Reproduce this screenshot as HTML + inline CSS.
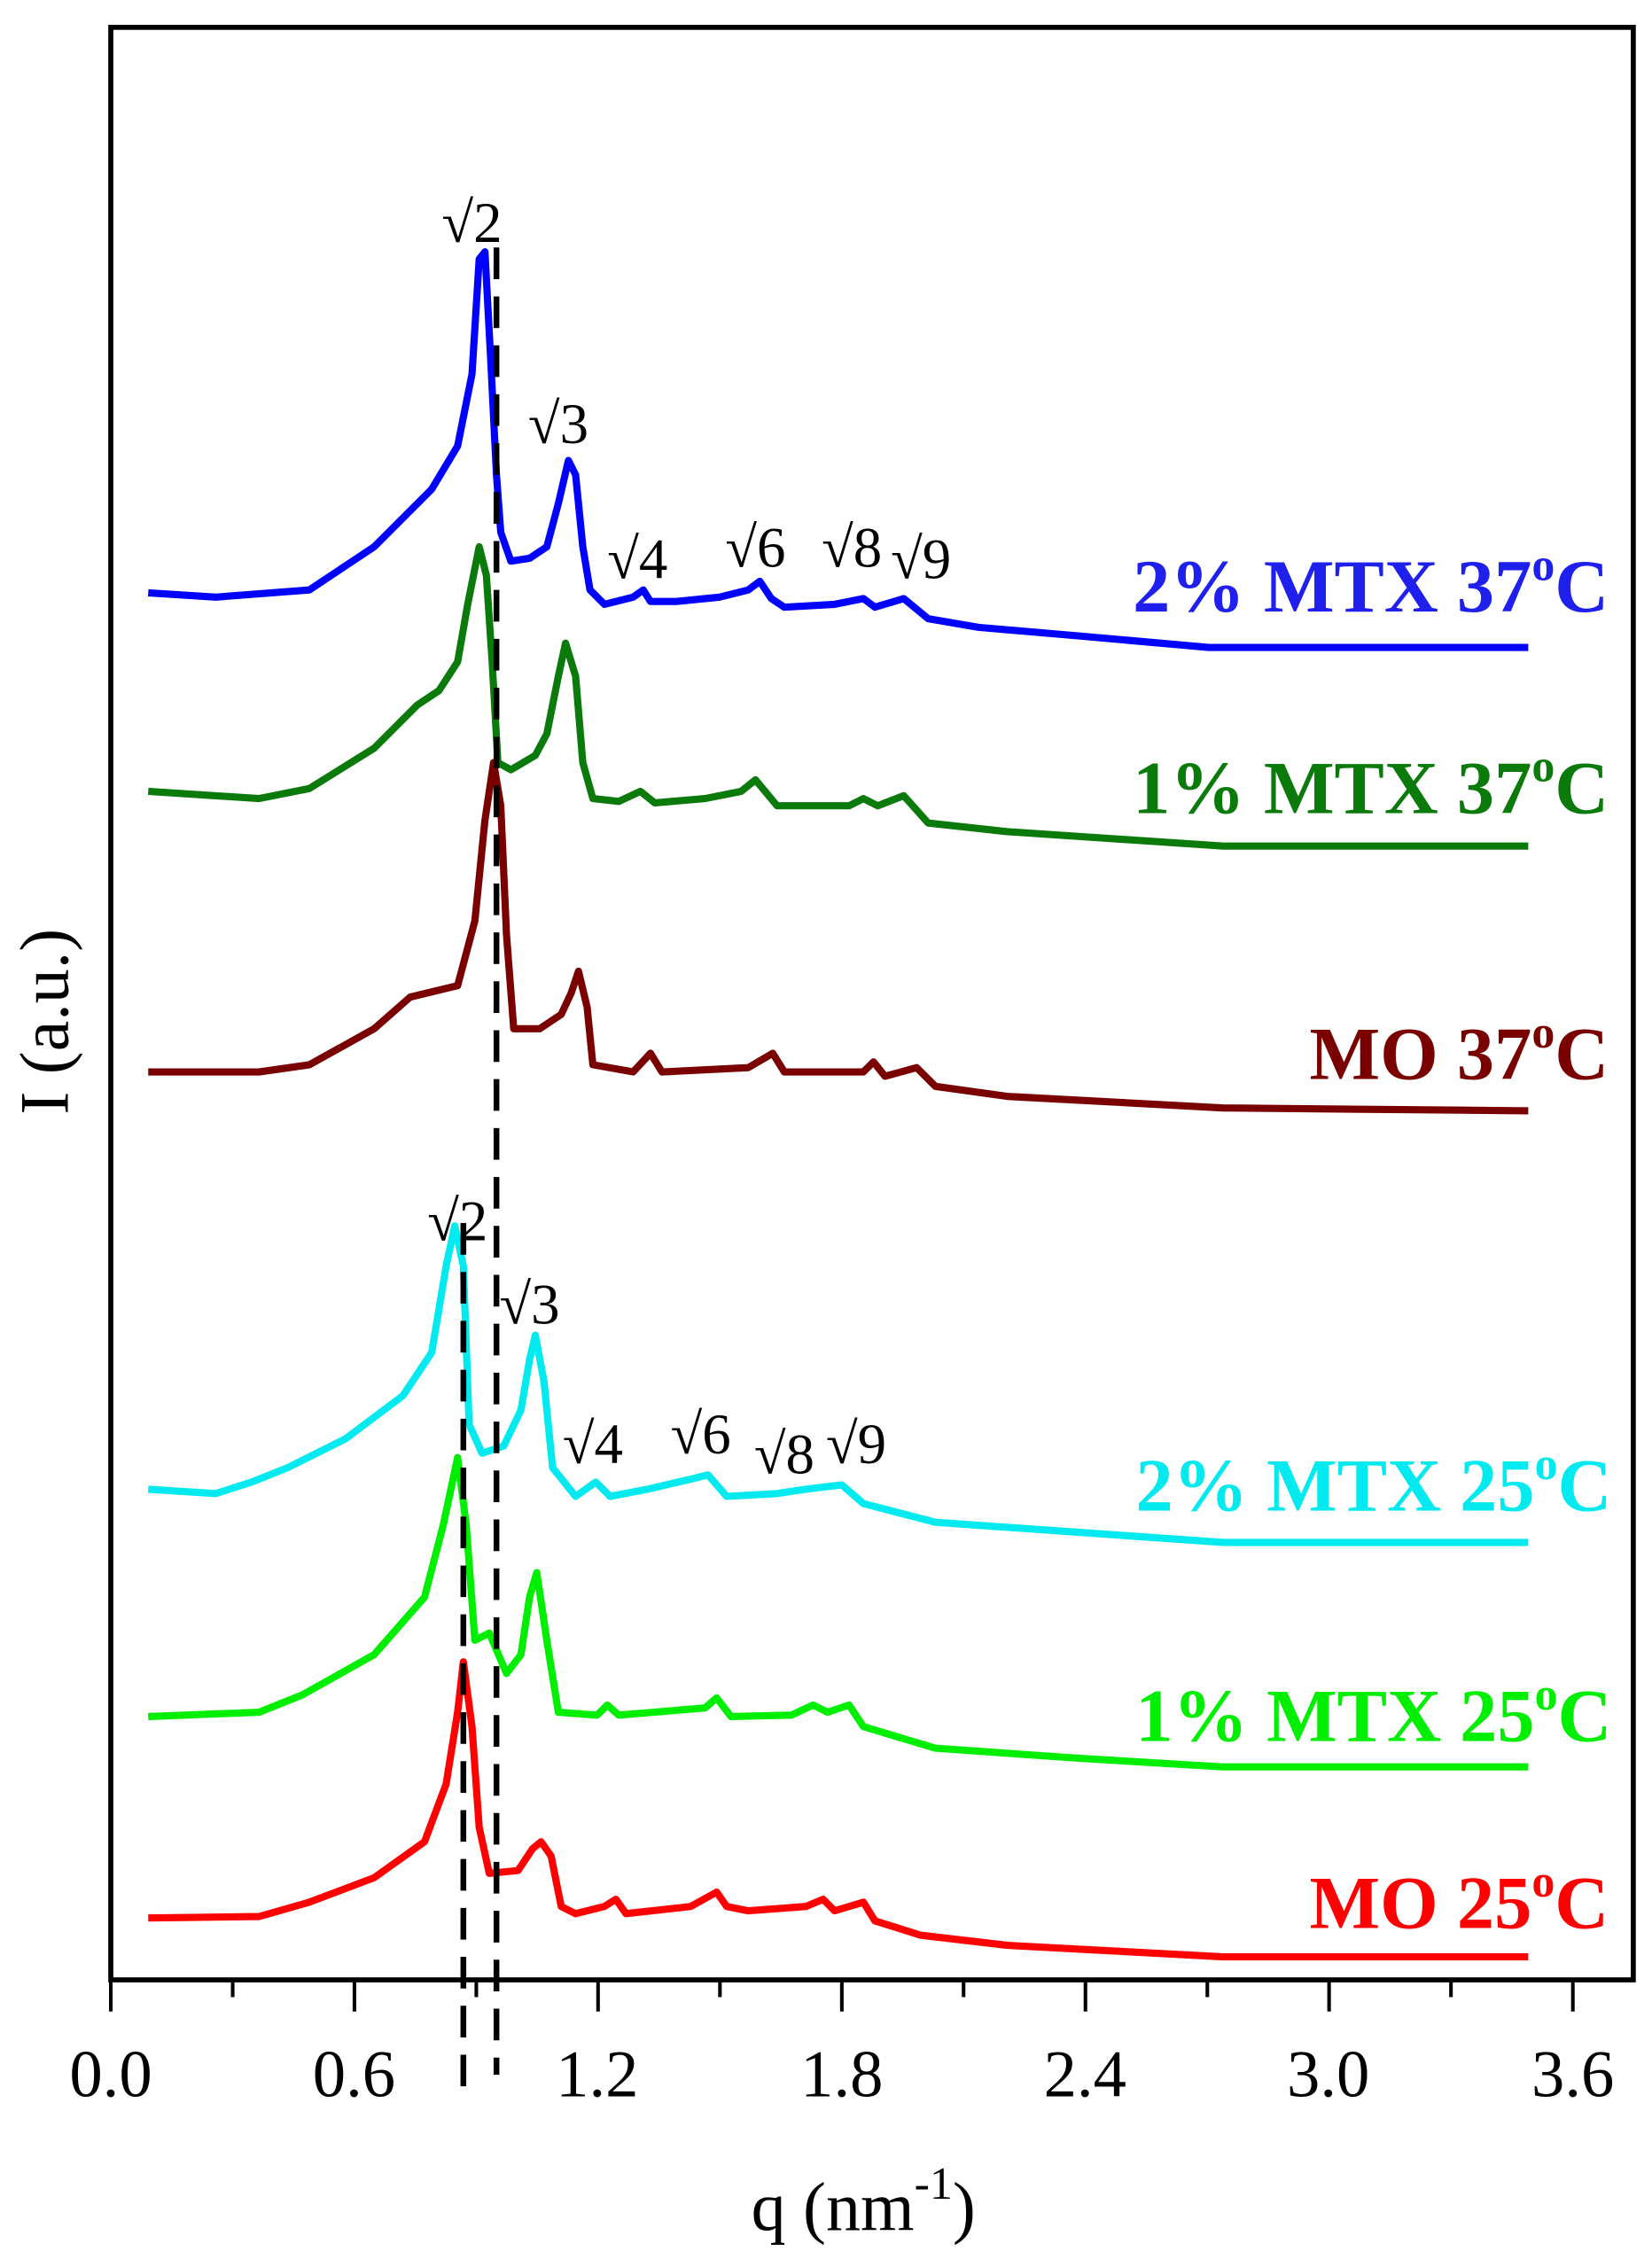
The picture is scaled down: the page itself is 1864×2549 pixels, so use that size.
<!DOCTYPE html>
<html><head><meta charset="utf-8"><style>html,body{margin:0;padding:0;background:#fff}svg{display:block}</style></head>
<body>
<svg width="1864" height="2549" viewBox="0 0 1148 1570" preserveAspectRatio="none" xmlns="http://www.w3.org/2000/svg" font-family="'Liberation Serif',serif">
<rect x="77" y="19" width="1058" height="1357" fill="none" stroke="#000" stroke-width="3.5"/>
<g stroke="#000" stroke-width="2.5">
<line x1="77" y1="1376" x2="77" y2="1398"/><line x1="161.7" y1="1376" x2="161.7" y2="1388"/>
<line x1="246.3" y1="1376" x2="246.3" y2="1398"/><line x1="331" y1="1376" x2="331" y2="1388"/>
<line x1="415.6" y1="1376" x2="415.6" y2="1398"/><line x1="500.3" y1="1376" x2="500.3" y2="1388"/>
<line x1="585" y1="1376" x2="585" y2="1398"/><line x1="669.6" y1="1376" x2="669.6" y2="1388"/>
<line x1="754.3" y1="1376" x2="754.3" y2="1398"/><line x1="839" y1="1376" x2="839" y2="1388"/>
<line x1="923.6" y1="1376" x2="923.6" y2="1398"/><line x1="1008.3" y1="1376" x2="1008.3" y2="1388"/>
<line x1="1093" y1="1376" x2="1093" y2="1398"/>
</g>
<g font-size="46" text-anchor="middle" fill="#000">
<text x="77" y="1457">0.0</text><text x="246" y="1457">0.6</text><text x="415" y="1457">1.2</text>
<text x="585" y="1457">1.8</text><text x="754" y="1457">2.4</text><text x="923" y="1457">3.0</text><text x="1093" y="1457">3.6</text>
</g>
<text x="600" y="1550" font-size="48" text-anchor="middle">q (nm<tspan dy="-22" font-size="32">-1</tspan><tspan dy="22">)</tspan></text>
<text transform="translate(47,710) rotate(-90)" font-size="48" text-anchor="middle">I (a.u.)</text>
<g fill="none" stroke-width="5" stroke-linejoin="round">
<polyline stroke="#0000ff" points="103,412 150,415 215,410 260,380 300,340 318,310 328,260 333,180 337,175 341,250 345,330 348,370 355,390 368,388 380,380 388,350 395,320 400,330 405,380 410,410 420,420 440,415 447,410 452,418 470,418 500,415 520,410 528,404 536,416 545,422 580,420 600,416 608,422 628,416 645,430 680,436 750,442 840,450 1062,450"/>
<polyline stroke="#0a7a0a" points="103,550 180,555 215,548 260,520 290,490 305,480 318,460 325,420 333,380 338,400 342,460 346,530 355,535 372,525 380,510 388,470 393,447 400,470 405,530 412,555 430,557 445,550 455,558 490,555 515,550 525,542 540,560 590,560 600,555 610,560 628,553 645,572 700,578 850,588 1062,588"/>
<polyline stroke="#7a0000" points="103,745 180,745 215,740 260,715 285,693 318,685 330,640 337,570 343,530 348,560 352,650 357,715 375,715 390,705 397,690 402,675 408,700 412,740 440,745 452,732 460,745 520,742 537,732 545,745 600,745 607,738 615,748 637,742 650,755 700,762 850,770 1062,772"/>
<polyline stroke="#00eaf0" points="103,1035 150,1038 175,1030 200,1020 240,1000 280,970 300,940 310,880 316,852 322,880 326,990 335,1010 350,1005 362,980 368,945 372,928 378,960 384,1020 400,1040 414,1030 424,1040 450,1035 480,1028 492,1025 505,1040 540,1038 560,1035 585,1032 600,1045 650,1058 750,1065 850,1072 1062,1072"/>
<polyline stroke="#00ee00" points="103,1193 180,1190 210,1178 260,1150 295,1110 308,1060 318,1013 324,1060 330,1140 340,1135 352,1163 362,1150 368,1110 373,1093 380,1140 388,1190 415,1192 422,1185 430,1192 490,1187 498,1180 508,1193 550,1192 565,1185 575,1190 590,1185 600,1200 650,1215 750,1222 850,1228 1062,1228"/>
<polyline stroke="#ff0000" points="103,1333 180,1332 215,1322 260,1305 295,1280 310,1240 318,1190 322,1155 328,1200 333,1270 340,1302 360,1300 370,1285 376,1280 383,1290 390,1325 400,1330 420,1325 428,1320 435,1330 480,1325 498,1315 505,1325 520,1328 560,1325 572,1320 580,1328 600,1322 608,1335 640,1345 700,1352 850,1360 1062,1360"/>
</g>
<g stroke="#000" stroke-width="4" stroke-dasharray="22,12">
<line x1="345" y1="172" x2="345" y2="1442"/>
<line x1="322" y1="850" x2="322" y2="1462"/>
</g>
<g font-size="40" text-anchor="middle" fill="#000">
<text x="328" y="168">√2</text><text x="388" y="308">√3</text><text x="443" y="402">√4</text>
<text x="525" y="394">√6</text><text x="592" y="394">√8</text><text x="640" y="402">√9</text>
<text x="318" y="862">√2</text><text x="368" y="920">√3</text><text x="412" y="1017">√4</text>
<text x="487" y="1010">√6</text><text x="545" y="1024">√8</text><text x="595" y="1017">√9</text>
</g>
<g font-size="52" font-weight="bold" text-anchor="end">
<text x="1118" y="425" fill="#2020ee">2% MTX 37<tspan dy="-22" font-size="32">o</tspan><tspan dy="22">C</tspan></text>
<text x="1118" y="565" fill="#0a7a0a">1% MTX 37<tspan dy="-22" font-size="32">o</tspan><tspan dy="22">C</tspan></text>
<text x="1118" y="750" fill="#7a0000">MO 37<tspan dy="-22" font-size="32">o</tspan><tspan dy="22">C</tspan></text>
<text x="1120" y="1050" fill="#00eaf0">2% MTX 25<tspan dy="-22" font-size="32">o</tspan><tspan dy="22">C</tspan></text>
<text x="1120" y="1210" fill="#00ee00">1% MTX 25<tspan dy="-22" font-size="32">o</tspan><tspan dy="22">C</tspan></text>
<text x="1118" y="1340" fill="#ff0000">MO 25<tspan dy="-22" font-size="32">o</tspan><tspan dy="22">C</tspan></text>
</g>
</svg>
</body></html>
